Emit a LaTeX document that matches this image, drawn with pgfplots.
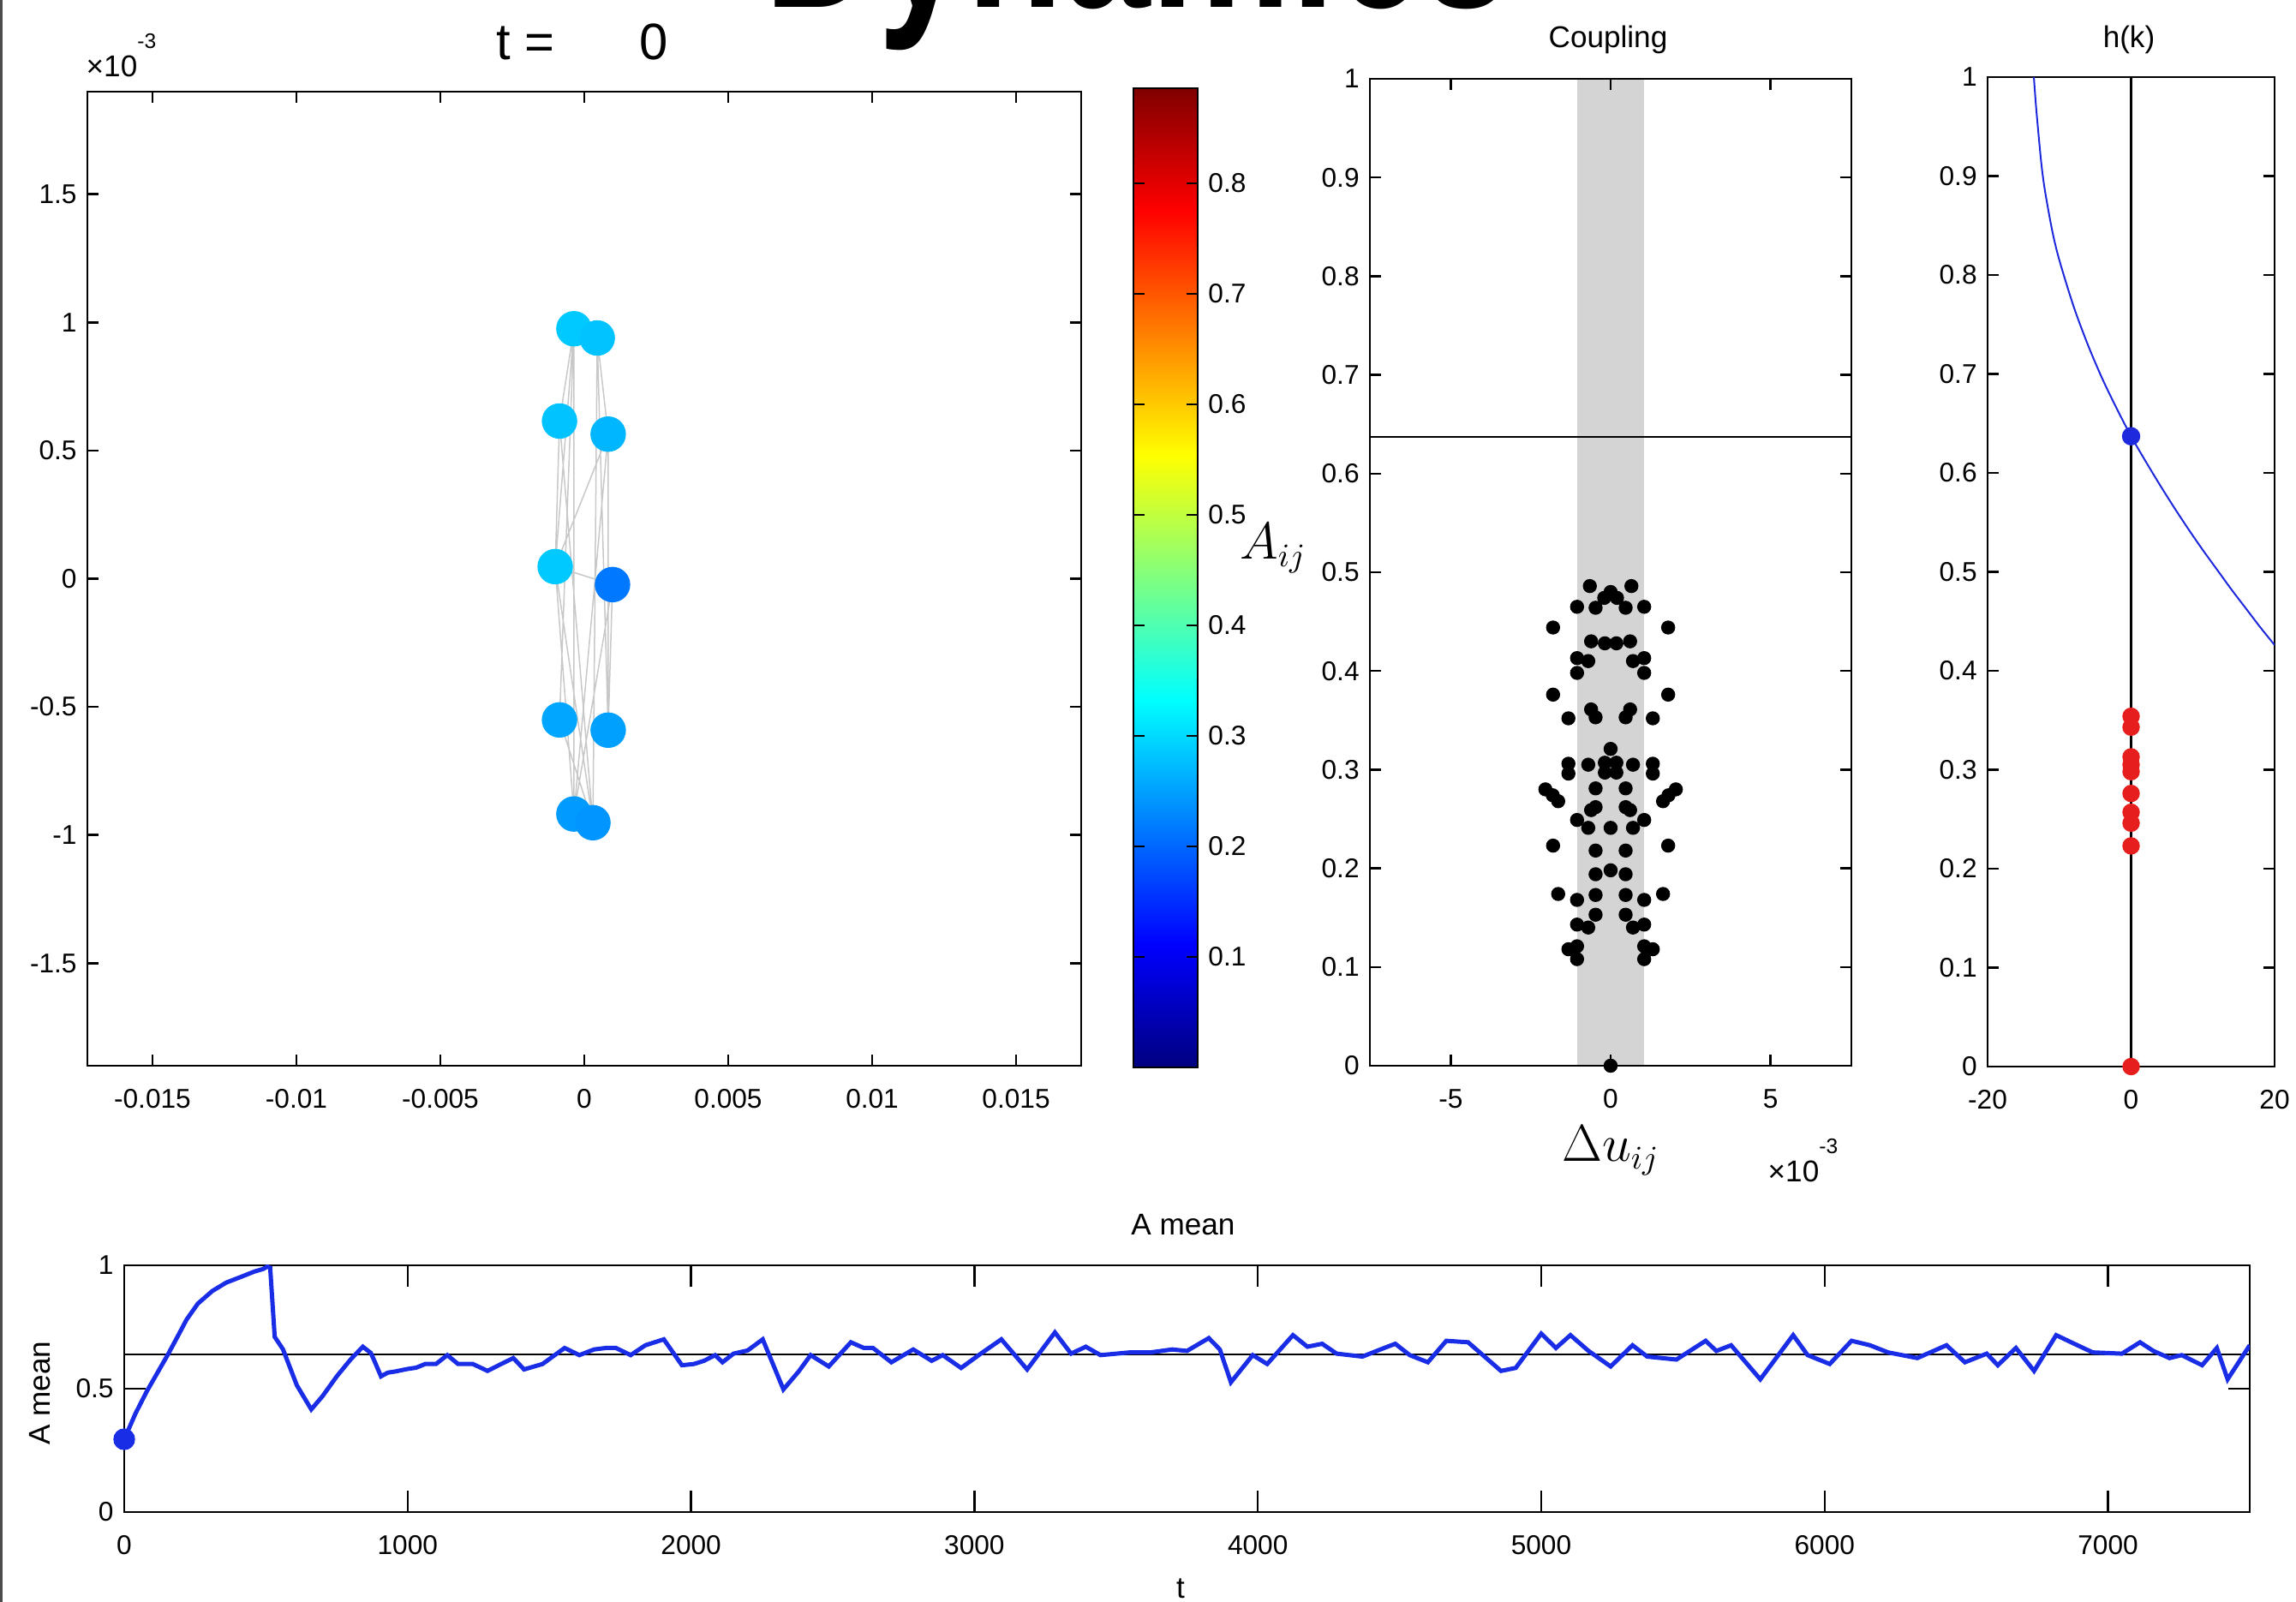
\documentclass[border=0pt]{standalone}
\usepackage{fontspec}
\setmainfont{Liberation Sans}
\newfontfamily\dynfont[FakeStretch=0.76]{Liberation Sans}
\usepackage{pgfplots}
\pgfplotsset{compat=1.18}

\definecolor{mblue}{RGB}{25,45,230}
\definecolor{hblue}{RGB}{30,40,220}
\definecolor{mred}{RGB}{230,30,30}
\definecolor{band}{RGB}{212,212,212}
\definecolor{edge}{RGB}{200,200,200}

\pgfplotsset{
  mat/.style={
    scale only axis,
    anchor=south west,
    axis line style={line width=0.25mm},
    tick align=inside,
    major tick length=1.3mm,
    tick style={line width=0.25mm, black},
    ticklabel style={font=\fontsize{9}{10}\selectfont},
    xticklabel style={yshift=-1.5mm},
    /pgf/number format/assume math mode=true,
    /pgf/number format/1000 sep={},
    scaled ticks=false,
  }
}

\pgfplotstableread{
x y
-0.00036 0.975
-0.00086 0.615
nan nan
-0.00036 0.975
-0.00101 0.047
nan nan
-0.00036 0.975
-0.00036 -0.918
nan nan
0.00045 0.939
0.00083 0.564
nan nan
0.00045 0.939
0.00083 -0.591
nan nan
0.00045 0.939
0.0003 -0.952
nan nan
-0.00086 0.615
-0.00101 0.047
nan nan
0.00083 0.564
-0.00101 0.047
nan nan
-0.00086 0.615
0.0003 -0.952
nan nan
0.00083 0.564
0.00083 -0.591
nan nan
-0.00101 0.047
0.00098 -0.023
nan nan
-0.00101 0.047
-0.00036 -0.918
nan nan
-0.00101 0.047
0.0003 -0.952
nan nan
0.00098 -0.023
0.00083 -0.591
nan nan
0.00083 0.564
-0.00036 -0.918
nan nan
-0.00086 -0.551
0.0003 -0.952
nan nan
-0.00036 0.975
-0.00086 -0.551
nan nan
0.00098 -0.023
-0.00036 -0.918
}\edges

\pgfplotstableread{
x y c
-0.00036 0.975 0.285
0.00045 0.939 0.280
-0.00086 0.615 0.280
0.00083 0.564 0.270
-0.00101 0.047 0.285
0.00098 -0.023 0.215
-0.00086 -0.551 0.255
0.00083 -0.591 0.250
-0.00036 -0.918 0.245
0.0003 -0.952 0.240
}\nodes

\pgfplotstableread{
x y
-0.65 0.486
0.65 0.486
0 0.480
-0.20 0.474
0.20 0.474
-1.05 0.465
1.05 0.465
-0.47 0.464
0.47 0.464
-1.80 0.444
1.80 0.444
-0.61 0.430
0.61 0.430
-0.18 0.428
0.18 0.428
-1.05 0.413
1.05 0.413
-0.70 0.410
0.70 0.410
-1.05 0.398
1.05 0.398
-1.80 0.376
1.80 0.376
-0.61 0.361
0.61 0.361
-0.47 0.353
0.47 0.353
-1.32 0.352
1.32 0.352
0 0.321
-0.18 0.307
0.18 0.307
-0.18 0.297
0.18 0.297
-0.70 0.305
0.70 0.305
-1.32 0.306
1.32 0.306
-1.32 0.296
1.32 0.296
-0.47 0.281
0.47 0.281
-2.04 0.280
2.04 0.280
-1.81 0.274
1.81 0.274
-1.64 0.268
1.64 0.268
-0.61 0.259
0.61 0.259
-0.47 0.262
0.47 0.262
-1.05 0.249
1.05 0.249
-0.70 0.241
0.70 0.241
0 0.241
-1.80 0.223
1.80 0.223
-0.47 0.218
0.47 0.218
-0.47 0.194
0.47 0.194
0 0.198
-1.64 0.174
1.64 0.174
-1.05 0.168
1.05 0.168
-0.47 0.173
0.47 0.173
-0.47 0.153
0.47 0.153
-1.05 0.143
1.05 0.143
-0.70 0.140
0.70 0.140
-1.32 0.118
1.32 0.118
-1.05 0.121
1.05 0.121
-1.05 0.108
1.05 0.108
0 0
}\coupling

\pgfplotstableread{
k h
-13.55 1.000
-13.3 0.975
-13.0 0.950
-12.5 0.912
-12.0 0.885
-11.0 0.845
-10.0 0.815
-8.0 0.768
-6.0 0.729
-4.0 0.695
-2.0 0.665
0 0.637
2 0.612
4 0.588
6 0.565
8 0.543
10 0.522
12 0.502
14 0.482
16 0.463
18 0.444
20 0.426
}\hcurve

\pgfplotstableread{
t v
0 0.295
40 0.40
80 0.49
120 0.57
155 0.64
190 0.715
220 0.78
260 0.845
311 0.896
360 0.930
414 0.954
460 0.975
490 0.985
505 0.995
515 0.99
531 0.71
560 0.66
609 0.514
660 0.416
700 0.47
750 0.55
800 0.62
842 0.67
870 0.645
880 0.62
906 0.55
930 0.565
958 0.57
1000 0.58
1030 0.585
1062 0.60
1100 0.60
1140 0.636
1178 0.60
1230 0.60
1282 0.572
1330 0.60
1373 0.624
1411 0.578
1476 0.60
1554 0.665
1606 0.636
1658 0.659
1700 0.665
1735 0.665
1787 0.636
1839 0.676
1904 0.70
1968 0.595
2010 0.60
2046 0.613
2085 0.636
2111 0.607
2150 0.642
2200 0.655
2253 0.70
2326 0.497
2380 0.57
2422 0.636
2486 0.59
2564 0.688
2610 0.665
2642 0.665
2707 0.607
2784 0.659
2849 0.613
2888 0.636
2953 0.584
3020 0.64
3095 0.70
3186 0.578
3284 0.728
3341 0.642
3393 0.67
3445 0.636
3548 0.647
3621 0.647
3698 0.659
3750 0.653
3827 0.705
3866 0.659
3905 0.526
3982 0.636
4033 0.60
4124 0.717
4175 0.67
4227 0.682
4278 0.642
4369 0.63
4446 0.665
4485 0.682
4536 0.636
4600 0.607
4665 0.694
4742 0.688
4794 0.636
4858 0.572
4910 0.584
5000 0.723
5052 0.665
5103 0.717
5167 0.653
5245 0.59
5322 0.676
5374 0.63
5477 0.618
5580 0.694
5618 0.653
5670 0.676
5773 0.538
5889 0.717
5940 0.636
6018 0.60
6095 0.694
6160 0.676
6224 0.647
6327 0.624
6430 0.676
6495 0.607
6572 0.642
6611 0.595
6675 0.665
6739 0.572
6817 0.717
6881 0.682
6946 0.647
7049 0.642
7113 0.688
7160 0.653
7217 0.624
7260 0.636
7332 0.595
7384 0.665
7422 0.538
7500 0.676
}\amean

\begin{document}
\begin{tikzpicture}
\path[use as bounding box] (0,0) rectangle (268mm,187mm);
\draw[gray!60!black, line width=0.3mm] (0.15mm,0) -- (0.15mm,187mm);

% big title, cut by the top edge
\node[anchor=base west, inner sep=0] at (89.2mm,186.1mm)
  {\dynfont\bfseries\fontsize{69}{70}\selectfont Dynamics};
\node[anchor=base west, inner sep=0] at (57.9mm,180.0mm)
  {\fontsize{17}{19}\selectfont t =};
\node[anchor=base west, inner sep=0] at (74.6mm,180.0mm)
  {\fontsize{17}{19}\selectfont 0};

% network
\begin{axis}[mat, at={(10.2mm,62.6mm)}, width=116mm, height=113.7mm,
  xmin=-0.01726, xmax=0.01726, ymin=-1.9, ymax=1.9,
  xtick={-0.015,-0.01,-0.005,0,0.005,0.01,0.015},
  xticklabels={-0.015,-0.01,-0.005,0,0.005,0.01,0.015},
  ytick={-1.5,-1,-0.5,0,0.5,1,1.5},
  colormap/jet, point meta min=0, point meta max=0.886,
  colorbar, colorbar/width=7.5mm,
  colorbar style={
    at={(parent axis.north east)}, anchor=north west,
    xshift=3.1mm, yshift=0.4mm,
    scale only axis, width=7.5mm, height=114.3mm,
    ytick={0.1,0.2,0.3,0.4,0.5,0.6,0.7,0.8},
    yticklabel pos=right, ytick pos=both,
    tick align=inside, major tick length=1.3mm,
    tick style={line width=0.25mm, black},
    axis line style={line width=0.25mm},
    yticklabel style={font=\fontsize{9}{10}\selectfont},
    /pgf/number format/assume math mode=true,
  }]
\addplot[edge, line width=0.15mm, unbounded coords=jump] table {\edges};
\addplot[scatter, only marks, mark=*, mark size=2.0mm, scatter src=explicit,
  scatter/use mapped color={draw=mapped color, fill=mapped color}]
  table[meta=c] {\nodes};
\end{axis}
\node[anchor=base west, inner sep=0] at (10.0mm,178.0mm)
  {\fontsize{10}{11}\selectfont ×10\raisebox{3.3mm}{\fontsize{7}{7}\selectfont -3}};
\node at (148.6mm,123.0mm) {\fontsize{16}{18}\selectfont$A_{ij}$};

% coupling
\begin{axis}[mat, at={(159.9mm,62.6mm)}, width=56.2mm, height=115.2mm,
  xmin=-7.53, xmax=7.53, ymin=0, ymax=1, axis on top,
  xtick={-5,0,5}, ytick={0,0.1,0.2,0.3,0.4,0.5,0.6,0.7,0.8,0.9,1}]
\addplot[fill=band, draw=none] coordinates {(-1.05,1) (1.05,1)} \closedcycle;
\addplot[black, line width=0.2mm] coordinates {(-7.53,0.637) (7.53,0.637)};
\addplot[only marks, mark=*, mark size=0.75mm, black] table {\coupling};
\end{axis}
\node[anchor=base, font=\fontsize{10}{12}\selectfont] at (187.7mm,181.4mm) {Coupling};
\node at (188.0mm,52.7mm) {\fontsize{16}{18}\selectfont$\Delta u_{ij}$};
\node[anchor=base west, inner sep=0] at (206.3mm,49.0mm)
  {\fontsize{10}{11}\selectfont ×10\raisebox{3.3mm}{\fontsize{7}{7}\selectfont -3}};

% h(k)
\begin{axis}[mat, at={(232.0mm,62.5mm)}, width=33.5mm, height=115.5mm,
  xmin=-20, xmax=20, ymin=0, ymax=1,
  xtick={-20,0,20}, ytick={0,0.1,0.2,0.3,0.4,0.5,0.6,0.7,0.8,0.9,1}]
\addplot[black, line width=0.25mm] coordinates {(0,0) (0,1)};
\addplot[hblue, line width=0.2mm, smooth] table {\hcurve};
\addplot[only marks, mark=*, mark size=0.95mm, mred] coordinates {
  (0,0.354) (0,0.343) (0,0.313) (0,0.305) (0,0.298) (0,0.276)
  (0,0.257) (0,0.246) (0,0.223) (0,0)};
\addplot[only marks, mark=*, mark size=1.0mm, hblue] coordinates {(0,0.637)};
\end{axis}
\node[anchor=base, font=\fontsize{10}{12}\selectfont] at (248.5mm,181.4mm) {h(k)};

% A mean over time
\begin{axis}[mat, at={(14.5mm,10.5mm)}, width=248.1mm, height=28.8mm,
  xmin=0, xmax=7500, ymin=0, ymax=1, major tick length=2.5mm,
  xtick={0,1000,2000,3000,4000,5000,6000,7000}, ytick={0,0.5,1}]
\addplot[black, line width=0.2mm] coordinates {(0,0.64) (7500,0.64)};
\addplot[mblue, line width=0.5mm] table {\amean};
\addplot[only marks, mark=*, mark size=1.2mm, mblue] coordinates {(0,0.295)};
\end{axis}
\node[anchor=base, font=\fontsize{10}{12}\selectfont] at (138.1mm,42.8mm) {A mean};
\node[anchor=base, font=\fontsize{10}{12}\selectfont] at (137.8mm,0.4mm) {t};
\node[rotate=90, font=\fontsize{10}{12}\selectfont] at (4.7mm,24.4mm) {A mean};
\end{tikzpicture}
\end{document}
